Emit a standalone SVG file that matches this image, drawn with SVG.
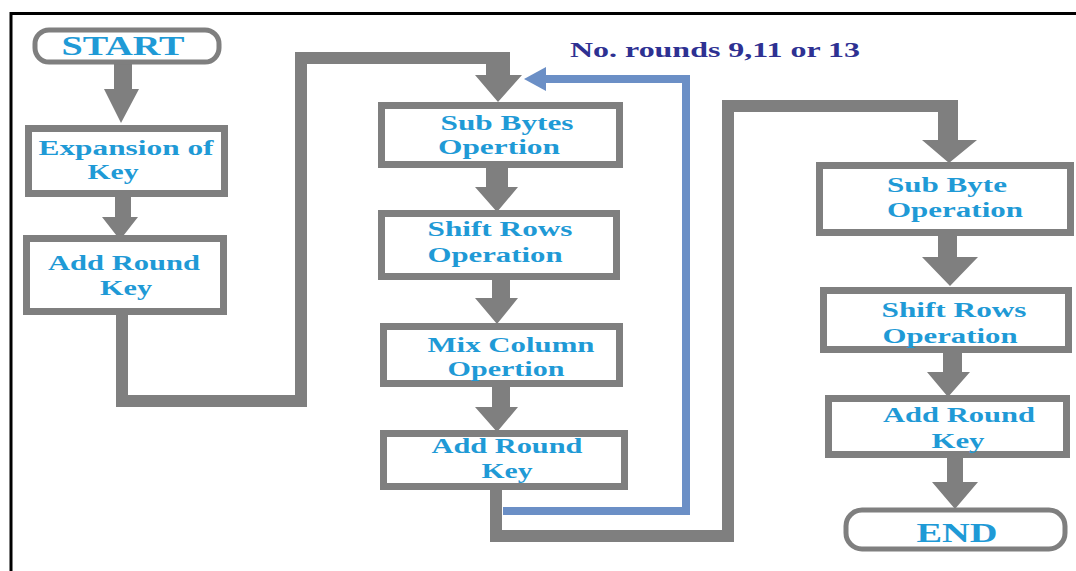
<svg xmlns="http://www.w3.org/2000/svg" width="1076" height="571" viewBox="0 0 1076 571">
<style>
.box{fill:#fff;stroke:#7f7f7f;stroke-width:7}
.term{fill:#fff;stroke:#7f7f7f;stroke-width:5}
.t{font-family:"Liberation Serif","Times New Roman",serif;font-weight:bold;font-size:20px;fill:#1f9ad6;text-anchor:middle}
.tb{font-size:28px}
.arr{fill:#7f7f7f}
.line{fill:none;stroke:#7f7f7f;stroke-width:12}
.blue{fill:none;stroke:#6b8fc6;stroke-width:8}
.lab{font-family:"Liberation Serif","Times New Roman",serif;font-weight:bold;font-size:21px;fill:#2e3192}
</style>
<rect x="0" y="0" width="1076" height="571" fill="#fff"/>
<path d="M11,571 V13.5 H1076" fill="none" stroke="#000" stroke-width="3"/>

<g id="connectors">
<path class="line" d="M122,312 V401 H301 V58 H510"/>
<path class="line" d="M496,487 V536 H728 V106 H958"/>
<path class="blue" d="M503,511 H686 V79 H543"/>
<polygon points="546,67 546,91 524,79" fill="#6b8fc6"/>
<path class="arr" d="M114,62 H132 V89 H139 L121,123 L104,89 H114 Z"/>
<path class="arr" d="M115,196 H131 V217 H138 L120,240 L102,217 H115 Z"/>
<path class="arr" d="M486,55 H510 V75 H522 L498,102 L475,75 H486 Z"/>
<path class="arr" d="M486,167 H508 V187 H518 L497,212 L475,187 H486 Z"/>
<path class="arr" d="M492,279 H510 V298 H518 L497,324 L475,298 H492 Z"/>
<path class="arr" d="M492,386 H510 V407 H518 L497,432 L475,407 H492 Z"/>
<path class="arr" d="M938,100 H958 V140 H977 L949,163 L922,140 H938 Z"/>
<path class="arr" d="M938,234 H957 V257 H978 L950,286 L922,257 H938 Z"/>
<path class="arr" d="M943,352 H962 V372 H970 L948,397 L927,372 H943 Z"/>
<path class="arr" d="M947,457 H963 V482 H978 L955,509 L932,482 H947 Z"/>
</g>

<text class="lab" x="570" y="57" textLength="290" lengthAdjust="spacingAndGlyphs">No. rounds 9,11 or 13</text>

<g id="start">
<rect class="term" x="35" y="30" width="184" height="32" rx="14"/>
<text class="t tb" x="123" y="55" textLength="123" lengthAdjust="spacingAndGlyphs">START</text>
</g>
<g id="expansion">
<rect class="box" x="28.5" y="128.5" width="196" height="65"/>
<text class="t" x="126" y="155" textLength="175" lengthAdjust="spacingAndGlyphs">Expansion of</text>
<text class="t" x="113" y="179" textLength="51" lengthAdjust="spacingAndGlyphs">Key</text>
</g>
<g id="addkey1">
<rect class="box" x="26.5" y="238.5" width="197" height="73"/>
<text class="t" x="124" y="270" textLength="152" lengthAdjust="spacingAndGlyphs">Add Round</text>
<text class="t" x="126" y="295" textLength="52" lengthAdjust="spacingAndGlyphs">Key</text>
</g>
<g id="subbytes">
<rect class="box" x="381.5" y="105.5" width="238" height="59"/>
<text class="t" x="507" y="130" textLength="133" lengthAdjust="spacingAndGlyphs">Sub Bytes</text>
<text class="t" x="499" y="154" textLength="122" lengthAdjust="spacingAndGlyphs">Opertion</text>
</g>
<g id="shiftrows">
<rect class="box" x="381.5" y="213.5" width="235" height="63"/>
<text class="t" x="500" y="236" textLength="145" lengthAdjust="spacingAndGlyphs">Shift Rows</text>
<text class="t" x="495" y="262" textLength="135" lengthAdjust="spacingAndGlyphs">Operation</text>
</g>
<g id="mixcolumn">
<rect class="box" x="383.5" y="326.5" width="236" height="57"/>
<text class="t" x="511" y="352" textLength="167" lengthAdjust="spacingAndGlyphs">Mix Column</text>
<text class="t" x="506" y="376" textLength="117" lengthAdjust="spacingAndGlyphs">Opertion</text>
</g>
<g id="addkey2">
<rect class="box" x="383.5" y="433.5" width="241" height="53"/>
<text class="t" x="507" y="453" textLength="151" lengthAdjust="spacingAndGlyphs">Add Round</text>
<text class="t" x="507" y="478" textLength="51" lengthAdjust="spacingAndGlyphs">Key</text>
</g>
<g id="subbyte">
<rect class="box" x="819.5" y="165.5" width="251" height="67"/>
<text class="t" x="947" y="192" textLength="120" lengthAdjust="spacingAndGlyphs">Sub Byte</text>
<text class="t" x="955" y="217" textLength="136" lengthAdjust="spacingAndGlyphs">Operation</text>
</g>
<g id="shiftrows2">
<rect class="box" x="823.5" y="290.5" width="245" height="59"/>
<text class="t" x="954" y="317" textLength="145" lengthAdjust="spacingAndGlyphs">Shift Rows</text>
<text class="t" x="950" y="343" textLength="135" lengthAdjust="spacingAndGlyphs">Operation</text>
</g>
<g id="addkey3">
<rect class="box" x="828.5" y="398.5" width="238" height="56"/>
<text class="t" x="959" y="422" textLength="152" lengthAdjust="spacingAndGlyphs">Add Round</text>
<text class="t" x="958" y="448" textLength="53" lengthAdjust="spacingAndGlyphs">Key</text>
</g>
<g id="end">
<rect class="term" x="846" y="510" width="219" height="39" rx="16"/>
<text class="t tb" x="957" y="542" textLength="81" lengthAdjust="spacingAndGlyphs">END</text>
</g>
</svg>
